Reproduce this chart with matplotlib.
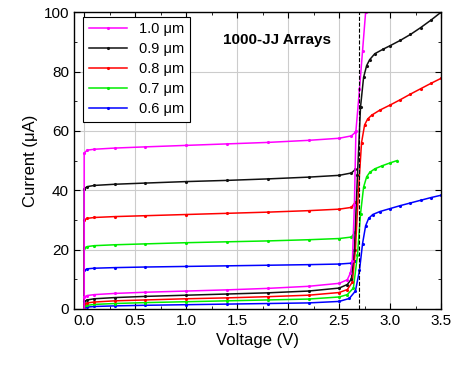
import matplotlib
matplotlib.use("Agg")
import matplotlib.pyplot as plt
from matplotlib.ticker import MultipleLocator

plt.rcParams['font.family'] = ['Liberation Sans', 'DejaVu Sans']

sizes = ["1.0", "0.9", "0.8", "0.7", "0.6"]
colors = ["#ff00ff", "#111111", "#ff0000", "#00ee00", "#0000ff"]

# switching (upper) branches
up_v = [0, 0, 0.03, 0.1, 0.3, 0.6, 1.0, 1.4, 1.8, 2.2, 2.5, 2.62, 2.66]
up_i = {
    "1.0": [0, 52.5, 53.5, 53.8, 54.2, 54.6, 55.1, 55.6, 56.1, 56.8, 57.5, 58.3, 59.5],
    "0.9": [0, 40.5, 41.2, 41.6, 42.0, 42.4, 42.9, 43.3, 43.8, 44.4, 45.0, 45.8, 47.0],
    "0.8": [0, 30.0, 30.5, 30.8, 31.1, 31.4, 31.8, 32.2, 32.6, 33.1, 33.6, 34.2, 36.0],
    "0.7": [0, 20.5, 21.0, 21.3, 21.6, 21.9, 22.3, 22.6, 22.9, 23.3, 23.7, 24.2, 26.0],
    "0.6": [0, 13.0, 13.5, 13.7, 13.9, 14.1, 14.3, 14.5, 14.7, 14.9, 15.1, 15.4, 16.0],
}

# return (lower) branches
low_v = {
    "1.0": [0, 0.03, 0.1, 0.3, 0.6, 1.0, 1.4, 1.8, 2.2, 2.5, 2.58, 2.61, 2.63, 2.65, 2.665, 2.7, 2.73, 2.76],
    "0.9": [0, 0.03, 0.1, 0.3, 0.6, 1.0, 1.4, 1.8, 2.2, 2.5, 2.58, 2.62, 2.65, 2.68, 2.71, 2.74, 2.77, 2.8,
            2.85, 2.93, 3.0, 3.1, 3.2, 3.3, 3.4, 3.5],
    "0.8": [0, 0.03, 0.1, 0.3, 0.6, 1.0, 1.4, 1.8, 2.2, 2.5, 2.58, 2.63, 2.66, 2.69, 2.72, 2.75, 2.78, 2.82,
            2.9, 3.0, 3.1, 3.2, 3.3, 3.4, 3.5],
    "0.7": [0, 0.03, 0.1, 0.3, 0.6, 1.0, 1.4, 1.8, 2.2, 2.5, 2.58, 2.64, 2.68, 2.71, 2.74, 2.77, 2.8, 2.85,
            2.92, 3.0, 3.07],
    "0.6": [0, 0.03, 0.1, 0.3, 0.6, 1.0, 1.4, 1.8, 2.2, 2.5, 2.6, 2.66, 2.7, 2.73, 2.76, 2.79, 2.83, 2.9,
            3.0, 3.1, 3.2, 3.3, 3.4, 3.5],
}
low_i = {
    "1.0": [4.0, 4.5, 4.8, 5.2, 5.6, 6.0, 6.4, 6.9, 7.6, 8.6, 9.8, 12, 16, 35, 60, 74, 87, 100],
    "0.9": [2.5, 3.0, 3.4, 3.8, 4.2, 4.6, 5.0, 5.4, 6.0, 7.0, 8.2, 10, 20, 45, 68, 78, 82, 84,
            86, 87.5, 88.7, 90.5, 92.5, 94.8, 97.3, 100],
    "0.8": [1.5, 2.0, 2.3, 2.7, 3.0, 3.4, 3.7, 4.1, 4.6, 5.5, 6.5, 9, 20, 40, 56, 62, 64, 65.3,
            67, 68.7, 70.5, 72.4, 74.2, 76, 77.7],
    "0.7": [0.8, 1.2, 1.5, 1.8, 2.1, 2.4, 2.7, 3.0, 3.3, 4.0, 4.8, 7, 18, 32, 41, 44.5, 46, 47.2,
            48.2, 49.2, 50],
    "0.6": [0.3, 0.6, 0.8, 1.0, 1.2, 1.4, 1.6, 1.8, 2.0, 2.5, 3.5, 6, 13, 22, 28, 30.5, 31.8, 32.8,
            33.8, 34.8, 35.7, 36.6, 37.5, 38.3],
}

fig = plt.figure(figsize=(4.51, 3.69), dpi=100)
ax = fig.add_axes([0.164, 0.163, 0.814, 0.804])

for s, c in list(zip(sizes, colors))[::-1]:
    ax.plot(low_v[s], low_i[s], color=c, lw=1.1, marker='.', ms=2.5)
    ax.plot(up_v, up_i[s], color=c, lw=1.1, marker='.', ms=2.5, label=s + " μm")

ax.axvline(2.7, color='black', ls='--', lw=0.8)

ax.set_xlim(-0.1, 3.5)
ax.set_ylim(0, 100)
ax.xaxis.set_major_locator(MultipleLocator(0.5))
ax.xaxis.set_minor_locator(MultipleLocator(0.25))
ax.yaxis.set_major_locator(MultipleLocator(20))
ax.yaxis.set_minor_locator(MultipleLocator(10))
ax.grid(True, which='major', color='#cccccc', lw=0.8)
ax.set_axisbelow(True)
ax.tick_params(which='both', direction='in', top=True, right=True, labelsize=11)
ax.tick_params(which='major', length=4)
ax.tick_params(which='minor', length=2.5)
for sp in ax.spines.values():
    sp.set_linewidth(1.0)

ax.set_xlabel("Voltage (V)", fontsize=12)
ax.set_ylabel("Current (μA)", fontsize=12)

ax.text(1.89, 90.6, "1000-JJ Arrays", fontsize=11, fontweight='bold', ha='center', va='center')

handles, labels = ax.get_legend_handles_labels()
leg = ax.legend(handles[::-1], labels[::-1], loc='upper left', bbox_to_anchor=(0.025, 0.985),
                borderaxespad=0, fancybox=False, edgecolor='black', fontsize=10.5,
                handlelength=2.6, labelspacing=0.4, framealpha=1)
leg.get_frame().set_linewidth(0.8)

fig.savefig("out.png", dpi=100)
